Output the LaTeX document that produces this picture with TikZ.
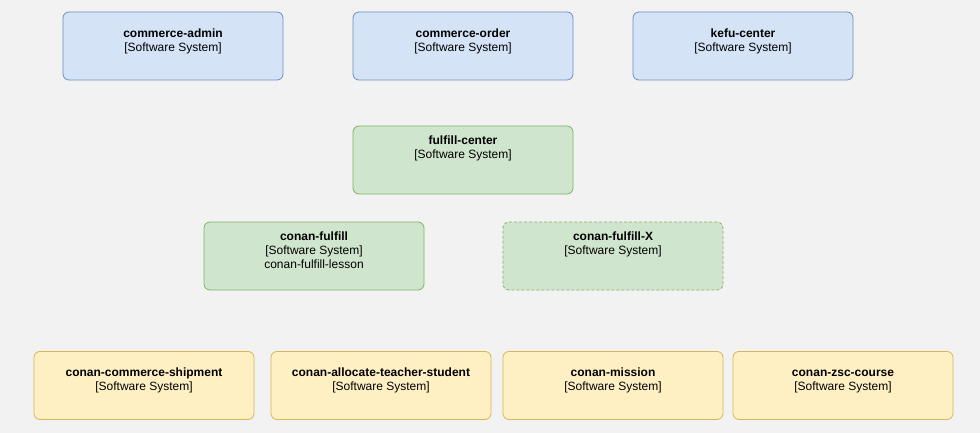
\documentclass[tikz,border=0pt]{standalone}
\usepackage{fontspec}
\setmainfont{Liberation Sans}
\usetikzlibrary{positioning}

\definecolor{hgrund}{HTML}{F2F2F2}
\definecolor{blaufill}{HTML}{D5E3F7}
\definecolor{blaurand}{HTML}{6C8EBF}
\definecolor{gruenfill}{HTML}{D0E5CD}
\definecolor{gruenrand}{HTML}{82B366}
\definecolor{gelbfill}{HTML}{FFF0C4}
\definecolor{gelbrand}{HTML}{D6B656}

% Systemname (fett, gleiche Oberlaenge)
\newcommand{\sysname}[1]{\vphantom{l}\textbf{#1}}

\begin{document}
\begin{tikzpicture}[x=1pt,y=-1pt,
	sys/.style={rounded corners=6pt,line width=0.8pt,minimum width=220pt,minimum height=68pt,inner sep=0pt},
	sysblau/.style={sys,draw=blaurand,fill=blaufill},
	sysgruen/.style={sys,draw=gruenrand,fill=gruenfill},
	sysgelb/.style={sys,draw=gelbrand,fill=gelbfill},
	txt/.style={inner sep=0pt,align=center,font=\fontsize{12}{14}\selectfont}]
		% Hintergrund
		\fill[hgrund] (0,0) rectangle (980,433);
		\useasboundingbox (0,0) rectangle (980,433);
		
		% obere Reihe
		\node[sysblau] (admin) at (173,46) {};
		\node[txt,below=17pt of admin.north] (admintxt) {\sysname{commerce-admin}\\{}[Software System]};
		\node[sysblau] (order) at (463,46) {};
		\node[txt,below=17pt of order.north] (ordertxt) {\sysname{commerce-order}\\{}[Software System]};
		\node[sysblau] (kefu) at (743,46) {};
		\node[txt,below=17pt of kefu.north] (kefutxt) {\sysname{kefu-center}\\{}[Software System]};
		
		% fulfill-center
		\node[sysgruen] (center) at (463,160) {};
		\node[txt,below=10pt of center.north] (centertxt) {\sysname{fulfill-center}\\{}[Software System]};
		
		% conan-fulfill und conan-fulfill-X
		\node[sysgruen] (fulfill) at (314,256) {};
		\node[txt,below=10pt of fulfill.north] (fulfilltxt) {\sysname{conan-fulfill}\\{}[Software System]\\conan-fulfill-lesson};
		\node[sysgruen,dash pattern=on 3pt off 2pt] (fulfillx) at (613,256) {};
		\node[txt,below=10pt of fulfillx.north] (fulfillxtxt) {\sysname{conan-fulfill-X}\\{}[Software System]};
		
		% untere Reihe
		\foreach \x/\n/\t in {144/shipment/conan-commerce-shipment,381/allocate/conan-allocate-teacher-student,613/mission/conan-mission,843/zsc/conan-zsc-course}
		{
		\node[sysgelb] (\n) at (\x,385.5) {};
		\node[txt,below=17pt of \n.north] (\n txt) {\sysname{\t}\\{}[Software System]};
		}
		
	\end{tikzpicture}
\end{document}
